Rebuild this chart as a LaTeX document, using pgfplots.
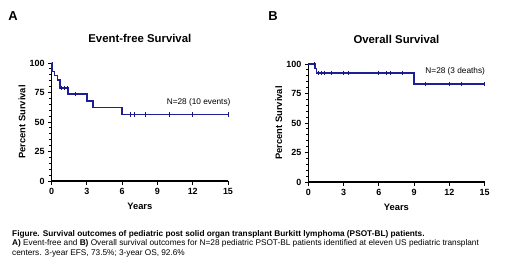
\documentclass[border=0pt]{standalone}
\usepackage{pgfplots}
\pgfplotsset{compat=1.18}
\usepackage{fontspec}
\setmainfont{Liberation Sans}
\definecolor{kmblue}{RGB}{30,30,150}
\pgfplotsset{km/.style={
  scale only axis, width=176.3bp, height=118bp,
  xmin=0, xmax=15, ymin=0, ymax=100,
  axis lines=left, axis line style={line width=1.2bp,-},
  xtick={0,3,...,15}, ytick={0,25,...,100}, minor y tick num=4,
  tick align=outside, major tick length=3.5bp, minor tick length=2.2bp,
  every tick/.style={black, line width=1bp},
  tick label style={font=\bfseries\fontsize{9}{9}\selectfont},
  /pgf/number format/assume math mode=true,
  xlabel={Years}, ylabel={Percent Survival},
  label style={font=\bfseries\fontsize{9.4}{9.4}\selectfont},
  xlabel style={at={(axis description cs:0.5,-0.215)}, anchor=center},
  ylabel style={at={(axis description cs:-0.168,0.5)}, anchor=center},
  title style={at={(axis description cs:0.5,1.161)}, anchor=center, font=\bfseries\fontsize{11.4}{11.4}\selectfont},
  clip=false,
}}
\begin{document}
\begin{tikzpicture}
\useasboundingbox (0bp,0bp) rectangle (520bp,-264bp);
\node[font=\bfseries\fontsize{13}{13}\selectfont] at (13bp,-16bp) {A};
\node[font=\bfseries\fontsize{13}{13}\selectfont] at (273bp,-16bp) {B};
\begin{axis}[km, at={(51.7bp,-181bp)}, anchor=south west, title={Event-free Survival}]
\addplot[kmblue, line width=1.6bp, const plot] coordinates {
(0,100) (0.03,92.9) (0.25,89.3) (0.5,85.7) (0.7,78.6) (1.4,73.5) (3.0,67.8) (3.5,62.2) (6.0,56.5) (15,56.5)};
\addplot[only marks, mark=|, mark size=2.2bp, kmblue!80!black, mark options={line width=0.8bp}] coordinates {
(0.85,78.6) (1.07,78.6) (1.3,78.6) (2.0,73.5) (6.7,56.5) (7.0,56.5) (8.0,56.5) (10.0,56.5) (12.0,56.5) (15.0,56.5)};
\node[font=\fontsize{8.3}{8.3}\selectfont] at (axis cs:12.5,67) {N=28 (10 events)};
\end{axis}
\begin{axis}[km, at={(308.3bp,-182bp)}, anchor=south west, title={Overall Survival}]
\addplot[kmblue, line width=1.6bp, const plot] coordinates {
(0,100) (0.55,96.3) (0.7,92.6) (9.0,83.3) (15,83.3)};
\addplot[only marks, mark=|, mark size=2.2bp, kmblue!80!black, mark options={line width=0.8bp}] coordinates {
(0.5,100) (0.88,92.6) (1.1,92.6) (1.33,92.6) (1.95,92.6) (2.97,92.6) (3.45,92.6) (6.0,92.6) (6.67,92.6) (6.95,92.6) (8.0,92.6)
(10.0,83.3) (12.0,83.3) (13.0,83.3) (15.0,83.3)};
\node[font=\fontsize{8.3}{8.3}\selectfont] at (axis cs:12.5,94) {N=28 (3 deaths)};
\end{axis}
\node[anchor=base west, align=left, inner sep=0pt, font=\fontsize{8.3}{9.7}\selectfont] at (12bp,-255.4bp) {\textbf{Figure. Survival outcomes of pediatric post solid organ transplant Burkitt lymphoma (PSOT-BL) patients.}\\
\textbf{A)} Event-free and \textbf{B)} Overall survival outcomes for N=28 pediatric PSOT-BL patients identified at eleven US pediatric transplant\\
centers. 3-year EFS, 73.5\%; 3-year OS, 92.6\%};
\end{tikzpicture}
\end{document}
